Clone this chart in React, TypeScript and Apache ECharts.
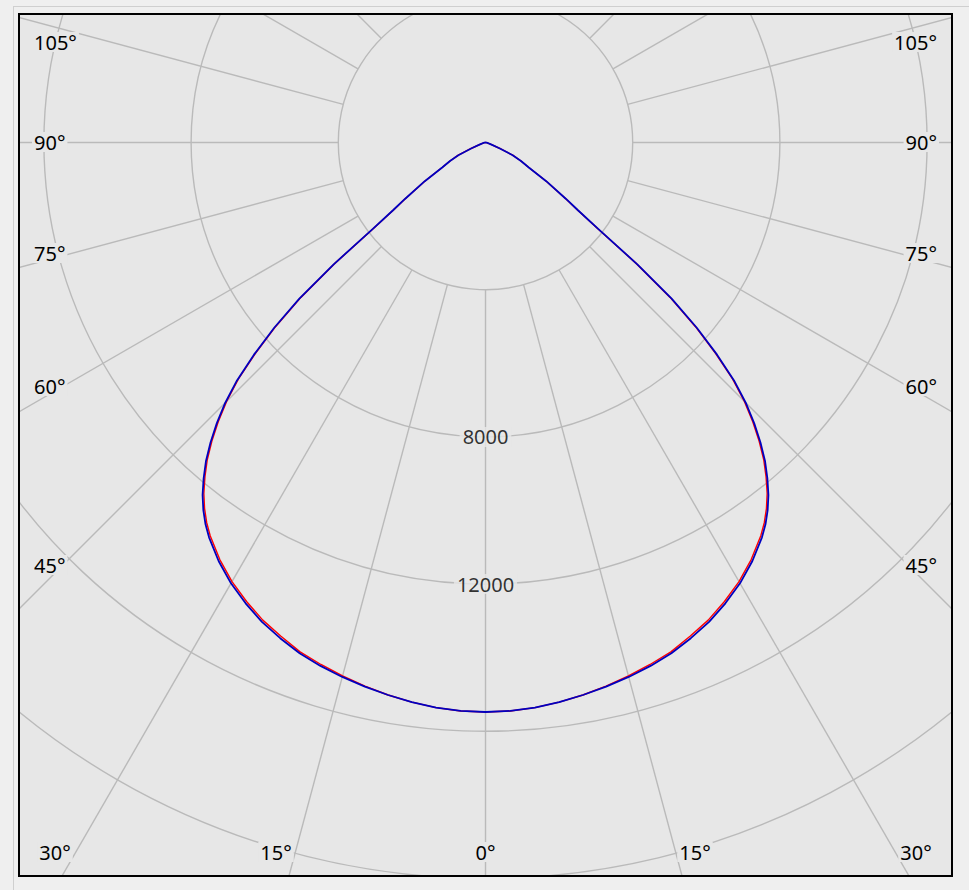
import React, { useEffect, useRef } from 'react';
import * as echarts from 'echarts';

// Photometric angles (degrees from nadir) and luminous intensities (cd)
const angles = [0, 2.5, 5, 7.5, 10, 12.5, 15, 17.5, 20, 22.5, 25, 27.5, 30, 32.5, 35, 36.25, 37.5, 38.75, 40, 41.25, 42.5, 43.75, 45, 46.25, 47.5, 48.75, 50, 51.25, 52.5, 53.75, 55, 57.5, 60, 62.5, 65, 67.5, 70, 72.5, 75, 77.5, 80, 82.5, 85, 87.5, 90];
const blueCd = [15476, 15462, 15416, 15340, 15245, 15144, 15035, 14913, 14769, 14579, 14375, 14117, 13832, 13492, 13098, 12867, 12595, 12283, 11916, 11522, 11060, 10557, 10000, 9348, 8533, 7636, 6603, 5299, 3859, 3125, 2663, 1957, 1359, 1087, 815, 408, 190, 122, 82, 54, 41, 27, 16, 8, 0];
const redCd = [15476, 15462, 15416, 15340, 15245, 15129, 15005, 14873, 14729, 14524, 14320, 14062, 13777, 13437, 13043, 12812, 12540, 12228, 11861, 11467, 11005, 10502, 9945, 9293, 8478, 7581, 6548, 5259, 3829, 3100, 2643, 1947, 1359, 1087, 815, 408, 190, 122, 82, 54, 41, 27, 16, 8, 0];

const radiusMax = 24000;
const radiusStep = 4000;
const spokeStart = 4000;
const spokeAngles = Array.from({ length: 24 }, (_, i) => i * 15);
const labeledRadii = [8000, 12000];

const leftLabels = ['105°', '90°', '75°', '60°', '45°'];
const rightLabels = ['105°', '90°', '75°', '60°', '45°'];
const bottomLabels = ['30°', '15°', '0°', '15°', '30°'];

const BG = '#e7e7e7';
const GRID = '#bababa';
const FONT = '"Noto Sans", "Open Sans", sans-serif';

const PX_PER_CD = 0.0368;

function toPolar(values: number[]) {
  const left: [number, number][] = [];
  const right: [number, number][] = [];
  for (let i = angles.length - 1; i >= 0; i--) left.push([values[i], angles[i]]);
  for (let i = 1; i < angles.length; i++) right.push([values[i], 360 - angles[i]]);
  return [...left, ...right];
}

export default function App() {
  const ref = useRef<HTMLDivElement>(null);

  useEffect(() => {
    if (!ref.current) return;
    const chart = echarts.init(ref.current, undefined, { renderer: 'svg' });

    const spokeSeries = spokeAngles.map((a) => ({
      type: 'line',
      coordinateSystem: 'polar',
      data: [[spokeStart, a], [radiusMax, a]],
      symbol: 'none',
      silent: true,
      z: 1,
      lineStyle: { color: GRID, width: 1.4 },
    }));

    const textStyle = (text: string, x: number, y: number, align: string) => ({
      type: 'text',
      x,
      y,
      z: 20,
      style: {
        text,
        fill: '#000',
        font: `20px ${FONT}`,
        align,
        verticalAlign: 'middle',
        backgroundColor: BG,
        padding: [0, 2],
      },
    });

    const leftY = [27, 127, 238, 371, 550];
    const graphics: any[] = [];
    leftLabels.forEach((t, i) => graphics.push(textStyle(t, 12, leftY[i], 'left')));
    rightLabels.forEach((t, i) => graphics.push(textStyle(t, 919, leftY[i], 'right')));
    const bottomX = [35, 256, 465.5, 675, 896];
    bottomLabels.forEach((t, i) => graphics.push(textStyle(t, bottomX[i], 837, 'center')));

    chart.setOption({
      animation: false,
      backgroundColor: BG,
      polar: {
        center: [465.5, 127.5],
        radius: radiusMax * PX_PER_CD,
      },
      angleAxis: {
        type: 'value',
        min: 0,
        max: 360,
        startAngle: 270,
        clockwise: true,
        axisLine: { show: false },
        axisTick: { show: false },
        axisLabel: { show: false },
        splitLine: { show: false },
      },
      radiusAxis: {
        type: 'value',
        min: 0,
        max: radiusMax,
        interval: radiusStep,
        axisLine: { show: false },
        axisTick: { show: false },
        axisLabel: { show: false },
        splitLine: { show: true, lineStyle: { color: GRID, width: 1.4 } },
      },
      graphic: graphics,
      series: [
        ...spokeSeries,
        {
          type: 'scatter',
          coordinateSystem: 'polar',
          data: labeledRadii.map((r) => [r, 0]),
          symbolSize: 1,
          itemStyle: { color: 'rgba(0,0,0,0)' },
          silent: true,
          z: 15,
          label: {
            show: true,
            position: 'inside',
            formatter: (p: any) => String(p.value[0]),
            color: '#000',
            fontSize: 20,
            fontFamily: FONT,
            backgroundColor: BG,
            padding: [0, 3],
          },
        },
        {
          name: 'C0-C180',
          type: 'line',
          coordinateSystem: 'polar',
          data: toPolar(redCd),
          symbol: 'none',
          z: 10,
          lineStyle: { color: '#ff0000', width: 1.4 },
        },
        {
          name: 'C90-C270',
          type: 'line',
          coordinateSystem: 'polar',
          data: toPolar(blueCd),
          symbol: 'none',
          z: 11,
          lineStyle: { color: '#0000c0', width: 1.8 },
        },
      ],
    });

    return () => chart.dispose();
  }, []);

  return (
    <div style={{ position: 'absolute', left: 0, top: 0, width: 969, height: 890, background: '#efefef', overflow: 'hidden' }}>
      <div style={{ position: 'absolute', left: 13, top: 6, width: 956, height: 1, background: '#cfcfcf' }} />
      <div style={{ position: 'absolute', left: 13, top: 6, width: 1, height: 884, background: '#cfcfcf' }} />
      <div
        style={{
          position: 'absolute',
          left: 18,
          top: 13,
          width: 935,
          height: 864,
          border: '2px solid #000',
          boxSizing: 'border-box',
          background: BG,
        }}
      >
        <div ref={ref} style={{ width: 931, height: 860 }} />
      </div>
    </div>
  );
}
